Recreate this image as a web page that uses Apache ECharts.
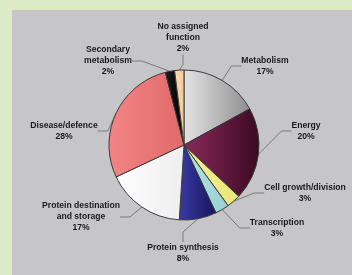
<!DOCTYPE html>
<html>
<head>
<meta charset="utf-8">
<script src="https://cdn.jsdelivr.net/npm/echarts@6/dist/echarts.min.js"></script>
<style>
  html, body { margin: 0; padding: 0; background: #dcebc6; }
  #chart { width: 352px; height: 275px; }
</style>
</head>
<body>
<div id="chart"></div>
<script>
// categories and shares (%)
var categories = [
  'Metabolism',
  'Energy',
  'Cell growth/division',
  'Transcription',
  'Protein synthesis',
  'Protein destination\nand storage',
  'Disease/defence',
  'Secondary\nmetabolism',
  'No assigned\nfunction'
];
var shares = [17, 20, 3, 3, 8, 17, 28, 2, 2];

// slice fills
var fills = [
  ['#e4e4e4', '#8e8e8e'],
  ['#8a2a5a', '#3a0a22'],
  ['#f4f290', '#e8e47a'],
  ['#b4e2e2', '#98d0d2'],
  ['#3a3aa8', '#16165a'],
  ['#ffffff', '#eeeeee'],
  ['#f48484', '#e06a6a'],
  ['#1a1a1a', '#000000'],
  ['#fbdcb4', '#f2c894']
];

// where each label sits (centre of text)
var labelPos = [
  [265, 66], [306, 131], [305, 193], [277, 228], [183, 253],
  [81, 217], [64, 131], [108, 61], [183, 38]
];

var chart = echarts.init(document.getElementById('chart'));

var data = categories.map(function (name, i) {
  return {
    name: name,
    value: shares[i],
    itemStyle: {
      color: {
        type: 'linear', x: 0, y: 0, x2: 1, y2: 0,
        colorStops: [
          { offset: 0, color: fills[i][0] },
          { offset: 1, color: fills[i][1] }
        ]
      }
    }
  };
});

chart.setOption({
  animation: false,
  graphic: [{
    type: 'rect',
    shape: { x: 12, y: 10, width: 340, height: 265 },
    style: { fill: '#c6c6c8' },
    z: -10
  }],
  series: [{
    type: 'pie',
    center: [184, 145],
    radius: 75,
    startAngle: 90,
    clockwise: true,
    data: data,
    itemStyle: { borderColor: '#3a3a3a', borderWidth: 1 },
    label: {
      formatter: '{b}\n{c}%',
      fontFamily: 'Liberation Sans, Arial, sans-serif',
      fontWeight: 'bold',
      fontSize: 8.6,
      lineHeight: 11,
      color: '#1a1a1a',
      align: 'center',
      overflow: 'none'
    },
    labelLine: {
      length: 10,
      length2: 10,
      lineStyle: { color: '#7a7a7a', width: 1 }
    },
    labelLayout: function (params) {
      var p = labelPos[params.dataIndex];
      return {
        x: p[0],
        y: p[1],
        align: 'center',
        verticalAlign: 'middle'
      };
    }
  }]
});
</script>
</body>
</html>
